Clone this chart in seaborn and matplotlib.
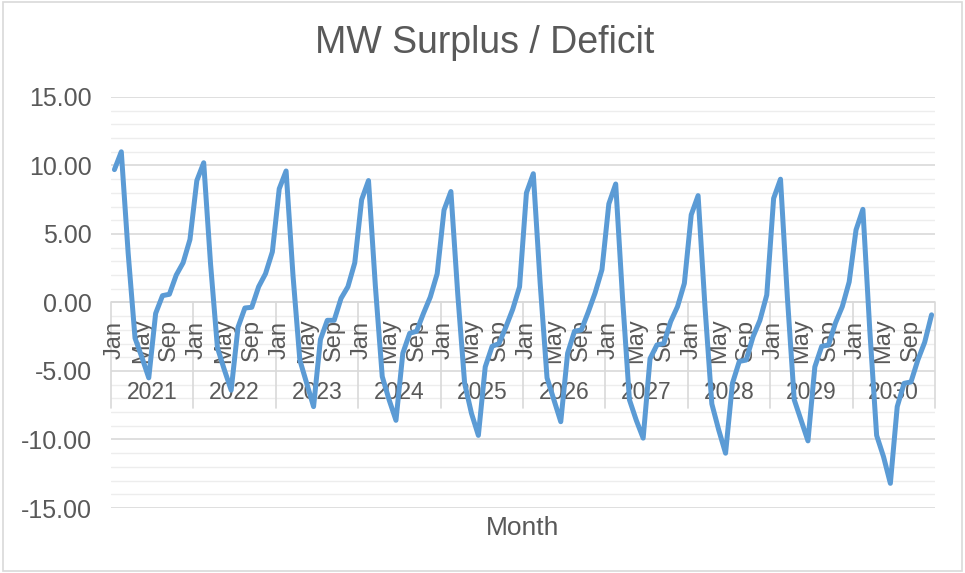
import matplotlib
matplotlib.use("Agg")
import matplotlib.pyplot as plt
import seaborn as sns
import pandas as pd
import numpy as np
from matplotlib.patches import Rectangle

years = ["2021", "2022", "2023", "2024", "2025", "2026", "2027", "2028", "2029", "2030"]
months = ["Jan", "Feb", "Mar", "Apr", "May", "Jun", "Jul", "Aug", "Sep", "Oct", "Nov", "Dec"]
shown_months = ["Jan", "May", "Sep"]

v2021 = [9.7, 11.0, 3.6, -2.6, -4.0, -5.5, -0.8, 0.5, 0.6, 2.0, 2.9, 4.6]
v2022 = [8.9, 10.2, 2.8, -3.3, -4.9, -6.4, -1.8, -0.4, -0.35, 1.15, 2.1, 3.7]
v2023 = [8.3, 9.6, 2.0, -4.2, -5.9, -7.6, -2.7, -1.3, -1.3, 0.3, 1.15, 2.9]
v2024 = [7.5, 8.9, 1.2, -5.4, -7.1, -8.6, -3.7, -2.25, -2.1, -0.8, 0.4, 2.1]
v2025 = [6.75, 8.1, 0.6, -5.9, -8.1, -9.7, -4.7, -3.2, -3.0, -1.8, -0.5, 1.15]
v2026 = [8.0, 9.4, 1.4, -5.5, -7.1, -8.7, -3.7, -2.1, -2.0, -0.7, 0.7, 2.4]
v2027 = [7.2, 8.65, 0.3, -7.1, -8.6, -9.9, -4.1, -3.1, -3.0, -1.4, -0.3, 1.4]
v2028 = [6.4, 7.8, -0.3, -7.4, -9.3, -11.0, -5.9, -4.3, -4.2, -2.5, -1.3, 0.55]
v2029 = [7.6, 9.0, 0.4, -7.1, -8.6, -10.1, -4.7, -3.2, -3.1, -1.5, -0.3, 1.5]
v2030 = [5.3, 6.8, -2.0, -9.7, -11.25, -13.2, -7.6, -5.9, -5.8, -4.2, -2.9, -0.9]

yticks = [-15, -10, -5, 0, 5, 10, 15]
ytick_labels = [f"{t:.2f}" for t in yticks]

all_vals = v2021 + v2022 + v2023 + v2024 + v2025 + v2026 + v2027 + v2028 + v2029 + v2030
df = pd.DataFrame({
    "idx": np.arange(len(all_vals)),
    "year": np.repeat(years, 12),
    "month": months * len(years),
    "value": all_vals,
})

sns.set_theme(style="white")
plt.rcParams["font.family"] = ["Liberation Sans", "DejaVu Sans"]
TXT = "#595959"
BLUE = "#5B9BD5"

fig = plt.figure(figsize=(9.65, 5.73), dpi=100)
ax = fig.add_axes([111 / 965, 1 - 508 / 573, (935 - 111) / 965, (508 - 97) / 573])

sns.lineplot(data=df, x="idx", y="value", ax=ax, color=BLUE, linewidth=3.6,
             zorder=5, legend=False)

ax.set_xlim(-0.5, len(all_vals) - 0.5)
ax.set_ylim(-15, 15)
ax.set_yticks(yticks)
ax.set_yticklabels(ytick_labels)
ax.set_yticks(np.arange(-15, 16, 1), minor=True)
ax.grid(which="major", axis="y", color="#D9D9D9", linewidth=1.2, zorder=0)
ax.grid(which="minor", axis="y", color="#EDEDED", linewidth=1.0, zorder=0)
ax.grid(which="major", axis="x", visible=False)
ax.set_axisbelow(True)
ax.tick_params(axis="y", which="both", length=0, labelsize=18, labelcolor=TXT, pad=14)
ax.set_xticks([])
for s in ax.spines.values():
    s.set_visible(False)
ax.set_ylabel("")
ax.set_xlabel("")

# category axis at y = 0
ax.axhline(0, color="#D9D9D9", linewidth=1.2, zorder=1)
for k in range(len(years) + 1):
    ax.plot([k * 12 - 0.5, k * 12 - 0.5], [0, -7.7], color="#D9D9D9",
            linewidth=1.2, zorder=1, clip_on=False)
for k, yr in enumerate(years):
    for mi, m in enumerate(months):
        if m in shown_months:
            ax.text(k * 12 + mi, -2.75, m, rotation=90, ha="center", va="center",
                    fontsize=17, color=TXT, zorder=2)
    ax.text(k * 12 + 5.5, -6.55, yr, ha="center", va="center", fontsize=16.5,
            color=TXT, zorder=2)

fig.text(485 / 965, 1 - 43 / 573, "MW Surplus / Deficit", ha="center", va="center",
         fontsize=27, color=TXT)
fig.text(523 / 965, 1 - 528 / 573, "Month", ha="center", va="center",
         fontsize=19, color=TXT)

fig.patches.append(Rectangle((0.003, 0.003), 0.994, 0.994, transform=fig.transFigure,
                             fill=False, edgecolor="#D9D9D9", linewidth=1.2))

fig.savefig("out.png", dpi=100, facecolor="white")
